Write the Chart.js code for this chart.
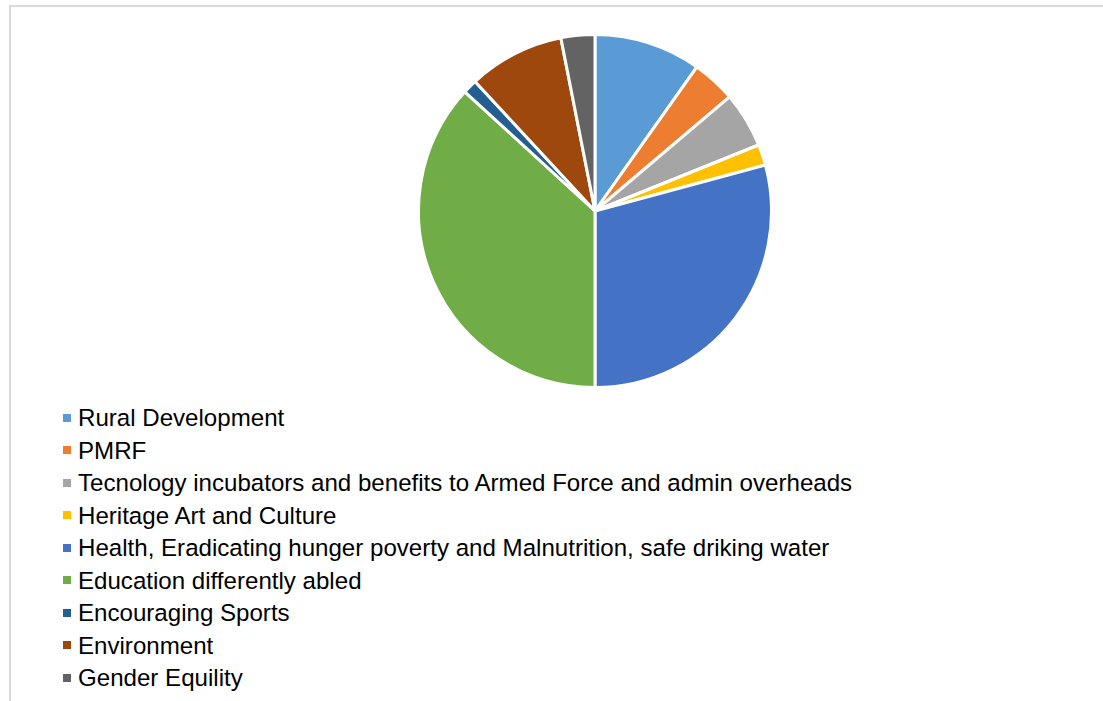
<!DOCTYPE html>
<html>
<head>
<meta charset="utf-8">
<script src="https://cdn.jsdelivr.net/npm/chart.js@4.4.1/dist/chart.umd.min.js"></script>
<style>
    html, body { margin: 0; padding: 0; background: #fff; width: 1103px; height: 701px; overflow: hidden; }
    .frame { position: absolute; left: 9px; top: 5px; right: -4px; bottom: -4px; border-left: 2px solid #d9d9d9; border-top: 2px solid #d9d9d9; }
    .pie-box { position: absolute; left: 417px; top: 33px; width: 356px; height: 356px; }
    .legend { position: absolute; left: 63px; top: 402px; font-family: Arial, "Liberation Sans", sans-serif; font-size: 24.1px; line-height: 32.5px; color: #000; }
    .legend div { white-space: nowrap; }
    .legend span.sw { display: inline-block; width: 8px; height: 8px; margin-right: 7px; vertical-align: middle; position: relative; top: -2px; }
</style>
</head>
<body>
<div class="frame"></div>
<div class="pie-box"><canvas id="pie"></canvas></div>
<div class="legend" id="legend"></div>
<script>
const categories = [
    'Rural Development',
    'PMRF',
    'Tecnology incubators and benefits to Armed Force and admin overheads',
    'Heritage Art and Culture',
    'Health, Eradicating hunger poverty and Malnutrition, safe driking water',
    'Education differently abled',
    'Encouraging Sports',
    'Environment',
    'Gender Equility'
];
const shares = [9.8, 4.0, 5.1, 1.9, 29.2, 36.8, 1.3, 8.8, 3.1];
const colors = ['#5b9bd5', '#ed7d31', '#a5a5a5', '#ffc000', '#4472c4', '#70ad47', '#255e91', '#9e480e', '#636363'];

new Chart(document.getElementById('pie'), {
    type: 'pie',
    data: {
        labels: categories,
        datasets: [{
            data: shares,
            backgroundColor: colors,
            borderColor: '#ffffff',
            borderWidth: 3
        }]
    },
    options: {
        responsive: true,
        maintainAspectRatio: false,
        animation: false,
        layout: { padding: 0 },
        plugins: { legend: { display: false }, tooltip: { enabled: false } }
    }
});

// legend built from the same arrays
document.getElementById('legend').innerHTML = categories.map((c, i) =>
    `<div><span class="sw" style="background:${colors[i]}"></span>${c}</div>`
).join('');
</script>
</body>
</html>
